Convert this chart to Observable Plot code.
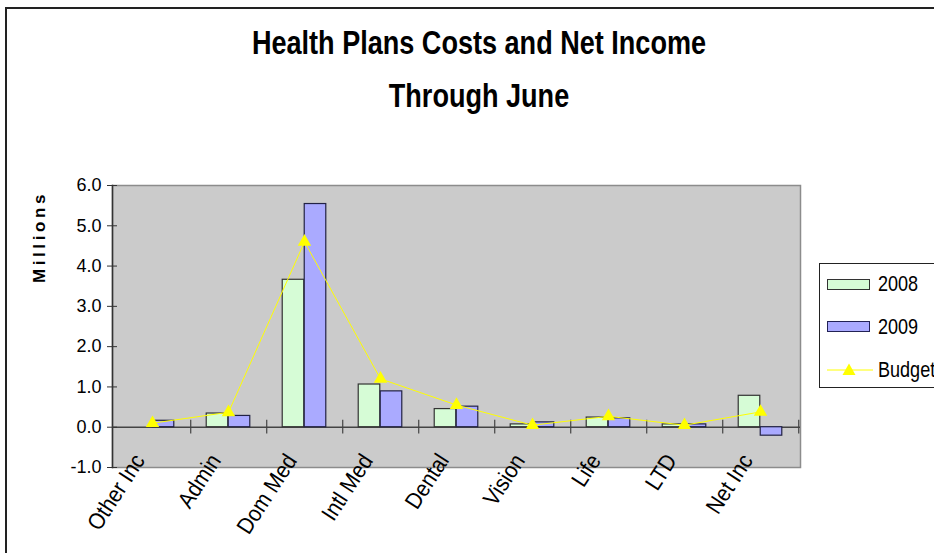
<!DOCTYPE html>
<html><head><meta charset="utf-8">
<script src="https://cdn.jsdelivr.net/npm/d3@7"></script>
<script src="https://cdn.jsdelivr.net/npm/@observablehq/plot@0.6"></script>
<style>
body{margin:0;background:#fff;}
#wrap{position:relative;width:934px;height:553px;overflow:hidden;font-family:"Liberation Sans",Arial,sans-serif;color:#000;}
#frame{position:absolute;left:5px;top:7px;width:990px;height:620px;border:2px solid #222;box-sizing:border-box;}
.t{position:absolute;left:0;width:958px;text-align:center;font-weight:bold;font-size:33px;line-height:33px;white-space:nowrap;transform:scaleX(0.82);transform-origin:479px 0;}
#chart{position:absolute;left:0;top:140px;}
#ylab{position:absolute;left:40px;top:237px;transform:translate(-50%,-50%) rotate(-90deg);font-weight:bold;font-size:17px;letter-spacing:3.6px;white-space:nowrap;}
#legend{position:absolute;left:819px;top:263px;width:140px;height:125px;border:1.5px solid #222;background:#fff;box-sizing:border-box;}
.sw{position:absolute;left:7px;width:43px;height:11px;box-sizing:border-box;}
.lt{position:absolute;left:58px;font-size:22px;line-height:22px;white-space:nowrap;transform:scaleX(0.82);transform-origin:0 0;}
</style></head>
<body>
<div id="wrap">
  <div id="frame"></div>
  <div class="t" style="top:26px">Health Plans Costs and Net Income</div>
  <div class="t" style="top:79px">Through June</div>
  <div id="chart"></div>
  <div id="ylab">Millions</div>
  <div id="legend">
    <div class="sw" style="top:15px;background:#d6fcd6;border:1px solid #333"></div>
    <div class="lt" style="top:9px">2008</div>
    <div class="sw" style="top:57px;background:#aaaaff;border:1px solid #222255"></div>
    <div class="lt" style="top:52px">2009</div>
    <svg style="position:absolute;left:0;top:96px" width="60" height="20">
      <line x1="7" y1="10" x2="53" y2="10" stroke="#ffff00" stroke-width="1"/>
      <path d="M29,3.5 L35.5,15 L22.5,15 Z" fill="#ffff00"/>
    </svg>
    <div class="lt" style="top:95px">Budget</div>
  </div>
</div>
<script>
const categories = ["Other Inc","Admin","Dom Med","Intl Med","Dental","Vision","Life","LTD","Net Inc"];
const v2008 = [0.0, 0.34, 3.66, 1.06, 0.45, 0.07, 0.24, 0.07, 0.78];
const v2009 = [0.16, 0.28, 5.54, 0.89, 0.51, 0.12, 0.22, 0.07, -0.21];
const budget = [0.1, 0.37, 4.6, 1.2, 0.55, 0.05, 0.27, 0.05, 0.38];
const yTicks = [-1, 0, 1, 2, 3, 4, 5, 6];

const rows = categories.map((c, i) => ({cat: c, y08: v2008[i], y09: v2009[i], bud: budget[i]}));
const step = 688 / categories.length;

const chart = Plot.plot({
  width: 934,
  height: 413,
  marginTop: 45,
  marginBottom: 86,
  marginLeft: 112,
  marginRight: 134,
  style: {fontFamily: '"Liberation Sans",Arial,sans-serif', background: "transparent", overflow: "visible"},
  x: {domain: categories, padding: 0, label: null},
  y: {domain: [-1, 6], label: null},
  marks: [
    Plot.frame({fill: "#cbcbcb", stroke: "#8c8c8c", strokeWidth: 1.5}),
    Plot.frame({anchor: "left", stroke: "#333", strokeWidth: 1.5}),
    Plot.ruleY([0], {stroke: "#444", strokeWidth: 1.5}),
    Plot.ruleX(categories, {dx: step / 2, y1: -0.17, y2: 0.17, stroke: "#444", strokeWidth: 1.2}),
    Plot.barY(rows, {x: "cat", y: "y08", fill: "#d6fcd6", stroke: "#333", strokeWidth: 1.2, insetLeft: step / 2 - 22, insetRight: step / 2}),
    Plot.barY(rows, {x: "cat", y: "y09", fill: "#aaaaff", stroke: "#222244", strokeWidth: 1.2, insetLeft: step / 2, insetRight: step / 2 - 22}),
    Plot.line(rows, {x: "cat", y: "bud", stroke: "#ffff00", strokeWidth: 1}),
    Plot.dot(rows, {x: "cat", y: "bud", symbol: "triangle", fill: "#ffff00", stroke: "none", r: 5}),
    Plot.axisY({ticks: yTicks, tickFormat: d => d.toFixed(1), tickSize: 5, tickPadding: 6, fontSize: 18, stroke: "#333"}),
    Plot.axisY({ticks: yTicks, tickSize: -5, text: null, stroke: "#333"}),
    Plot.axisX({tickSize: 0, tickRotate: -57, tickPadding: 0, dx: -13, dy: -11, fontSize: 23})
  ]
});
document.getElementById("chart").appendChild(chart);
chart.querySelectorAll('g[aria-label="x-axis tick label"] text').forEach(t => {
  const tr = t.getAttribute("transform") || "";
  t.setAttribute("transform", tr + " scale(0.9,1)");
});
</script>
</body></html>
